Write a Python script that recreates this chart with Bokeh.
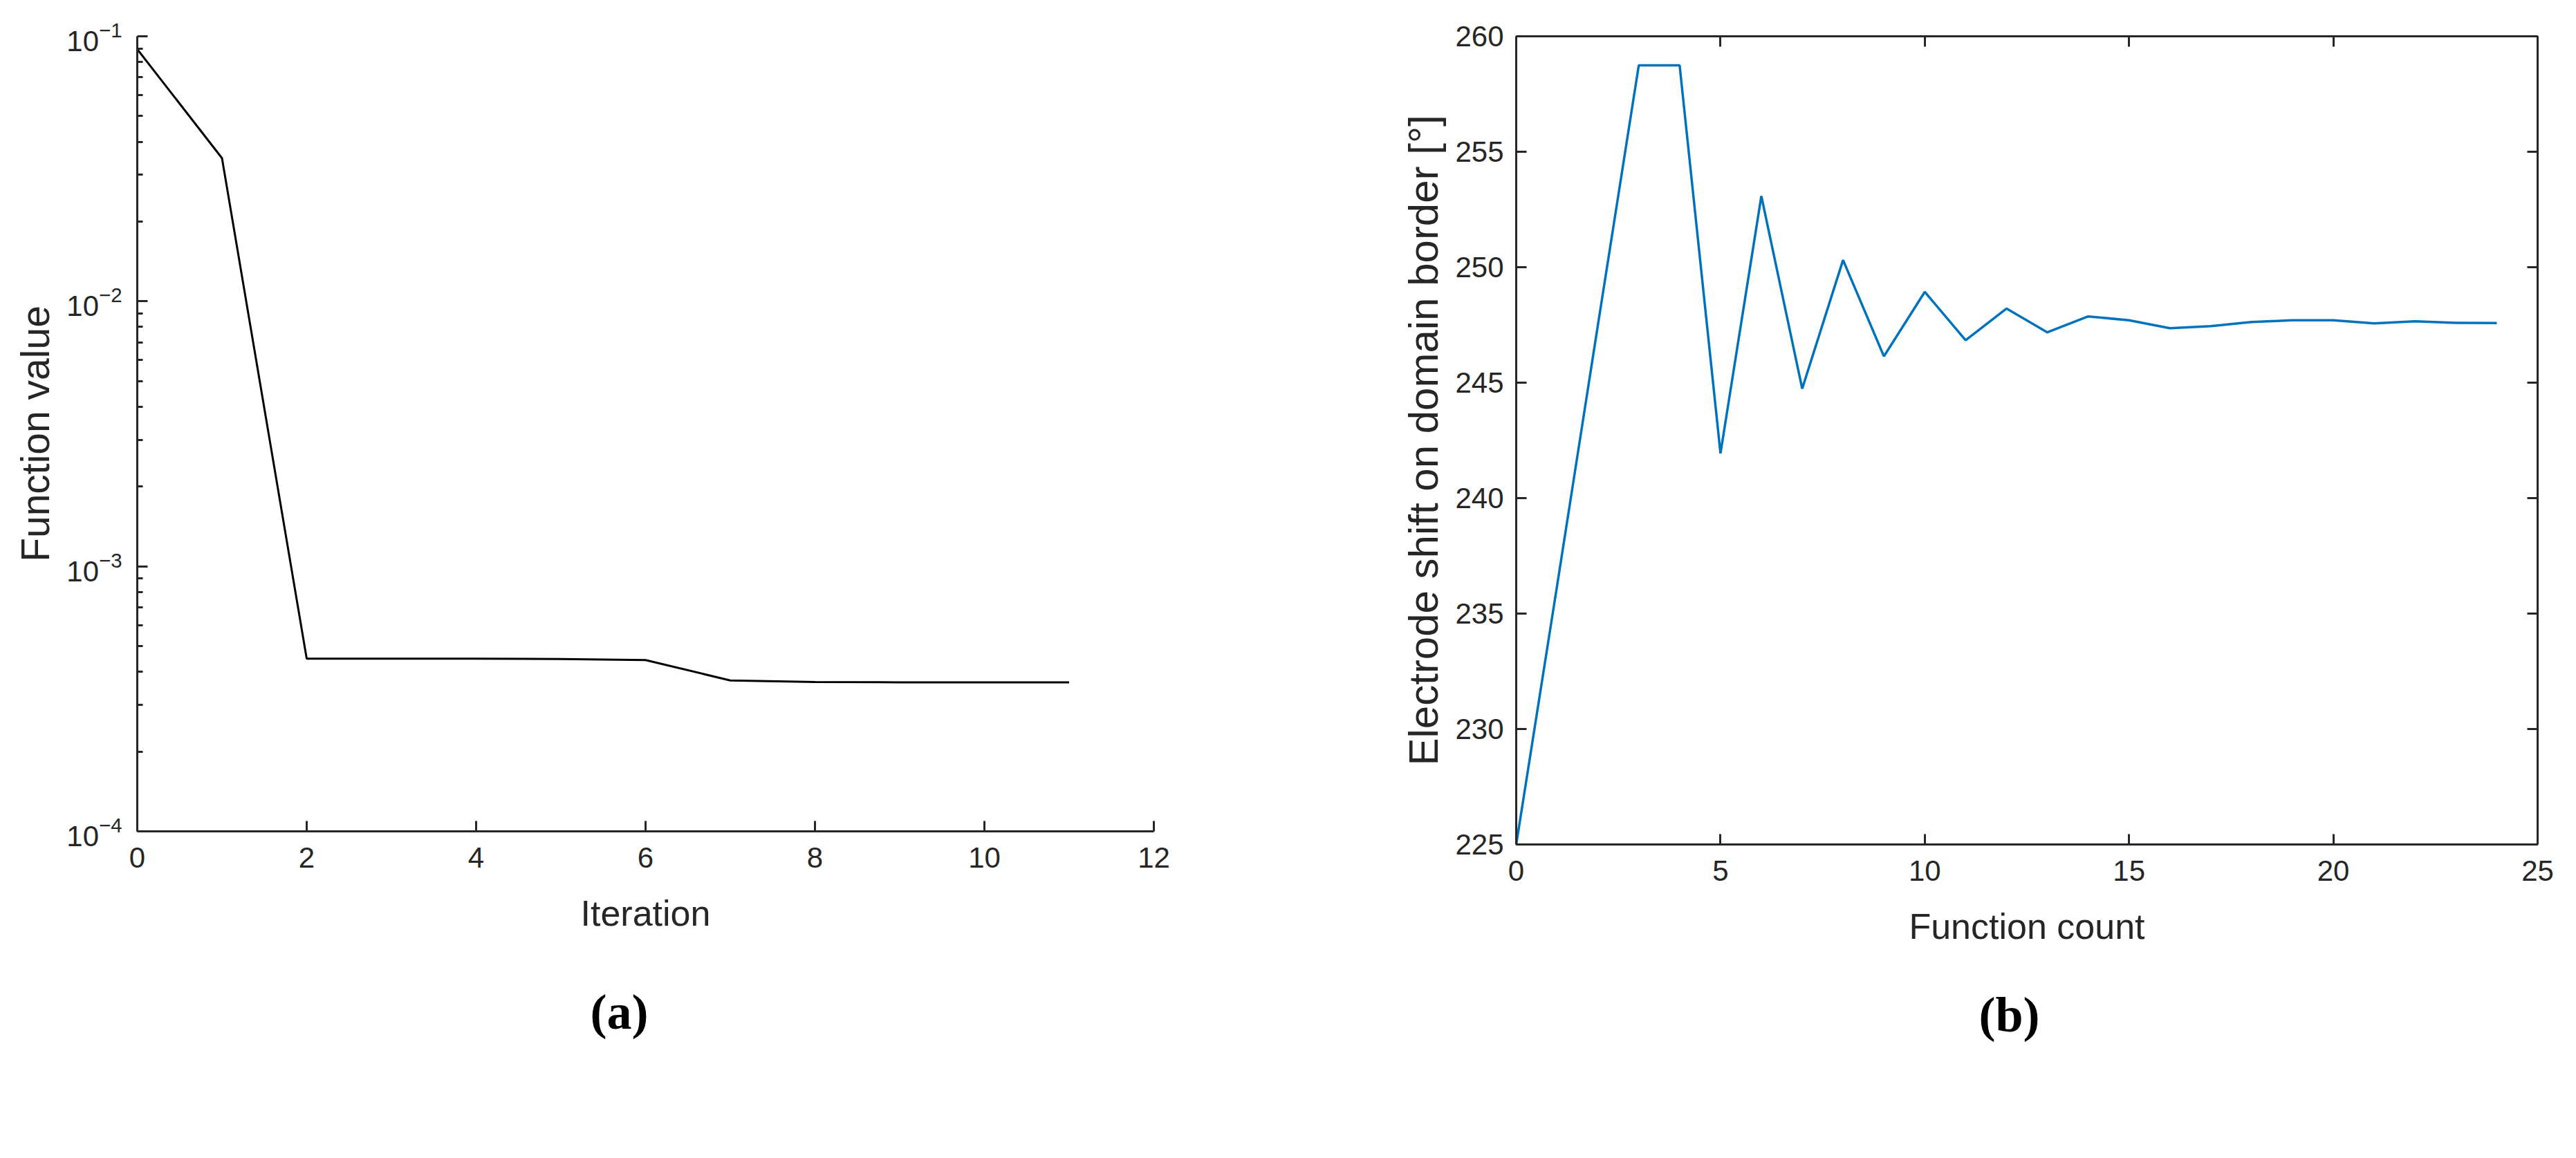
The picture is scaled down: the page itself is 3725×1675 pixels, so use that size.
from bokeh.plotting import figure
from bokeh.layouts import row
from bokeh.models import Range1d, FixedTicker, LinearAxis, Title
from bokeh.embed import file_html
from bokeh.resources import INLINE

# ---------------- data ----------------
iteration = [0, 1, 2, 3, 4, 5, 6, 7, 8, 9, 10, 11]
function_value = [0.0894, 0.0347, 4.48e-4, 4.48e-4, 4.48e-4, 4.47e-4,
                  4.43e-4, 3.71e-4, 3.66e-4, 3.65e-4, 3.65e-4, 3.65e-4]

function_count = [0, 1, 2, 3, 4, 5, 6, 7, 8, 9, 10, 11, 12,
                  13, 14, 15, 16, 17, 18, 19, 20, 21, 22, 23, 24]
electrode_shift = [225.0, 236.2, 247.5, 258.74, 258.74, 241.94, 253.08, 244.74,
                   250.31, 246.14, 248.93, 246.84, 248.21, 247.18, 247.87, 247.70,
                   247.36, 247.45, 247.63, 247.70, 247.70, 247.57, 247.66, 247.59,
                   247.58]

a_xticks = [0, 2, 4, 6, 8, 10, 12]
a_yticks = [1e-4, 1e-3, 1e-2, 1e-1]
a_yminor = [2e-4, 3e-4, 4e-4, 5e-4, 6e-4, 7e-4, 8e-4, 9e-4,
            2e-3, 3e-3, 4e-3, 5e-3, 6e-3, 7e-3, 8e-3, 9e-3,
            2e-2, 3e-2, 4e-2, 5e-2, 6e-2, 7e-2, 8e-2, 9e-2]
b_xticks = [0, 5, 10, 15, 20, 25]
b_yticks = [225, 230, 235, 240, 245, 250, 255, 260]

AX = "#262626"
FONT = "Liberation Sans"
TICK_SIZE = "42px"
XLABEL_SIZE = "52px"


def style_axis(ax, tick_standoff, label_standoff, label_size=XLABEL_SIZE,
               minor=False, show_labels=True):
    ax.axis_line_color = AX
    ax.axis_line_width = 3
    ax.major_tick_line_color = AX
    ax.major_tick_line_width = 3
    ax.major_tick_in = 15
    ax.major_tick_out = 0
    if minor:
        ax.minor_tick_line_color = AX
        ax.minor_tick_line_width = 3
        ax.minor_tick_in = 8
        ax.minor_tick_out = 0
    else:
        ax.minor_tick_line_color = None
    ax.major_label_text_font = FONT
    ax.major_label_standoff = tick_standoff
    if show_labels:
        ax.major_label_text_font_size = TICK_SIZE
        ax.major_label_text_color = AX
    else:
        ax.major_label_text_font_size = "1px"
        ax.major_label_text_color = None
        ax.major_label_standoff = 0
    ax.axis_label_text_font = FONT
    ax.axis_label_text_font_size = label_size
    ax.axis_label_text_font_style = "normal"
    ax.axis_label_text_color = AX
    ax.axis_label_standoff = label_standoff


TOP = 52
BOTTOM = 446

# ---------------- panel (a) ----------------
p1 = figure(width=1868, height=TOP + 1150 + BOTTOM,
            x_range=Range1d(0, 12), y_range=Range1d(1e-4, 1e-1),
            y_axis_type="log", output_backend="svg", toolbar_location=None,
            min_border_left=198, min_border_right=200,
            min_border_top=TOP, min_border_bottom=BOTTOM)
p1.outline_line_color = None
p1.xgrid.visible = False
p1.ygrid.visible = False
p1.background_fill_color = "white"
p1.border_fill_color = "white"

p1.xaxis.ticker = FixedTicker(ticks=a_xticks)
p1.yaxis.ticker = FixedTicker(ticks=a_yticks, minor_ticks=a_yminor)
p1.xaxis.axis_label = "Iteration"
p1.yaxis.axis_label = "Function value"
style_axis(p1.xaxis[0], 23, 34)
style_axis(p1.yaxis[0], 22, 10, label_size="57px", minor=True)

p1.line(iteration, function_value, line_color="black", line_width=3)

p1.add_layout(Title(text="(a)", align="left", offset=655,
                    text_font="Liberation Serif", text_font_size="72px",
                    text_font_style="bold", text_color="black", standoff=139),
              "below")

# ---------------- panel (b) ----------------
p2 = figure(width=1852, height=TOP + 1169 + BOTTOM,
            x_range=Range1d(0, 25), y_range=Range1d(225, 260),
            output_backend="svg", toolbar_location=None,
            min_border_left=324, min_border_right=51,
            min_border_top=TOP, min_border_bottom=BOTTOM)
p2.outline_line_color = None
p2.xgrid.visible = False
p2.ygrid.visible = False
p2.background_fill_color = "white"
p2.border_fill_color = "white"

p2.xaxis.ticker = FixedTicker(ticks=b_xticks)
p2.yaxis.ticker = FixedTicker(ticks=b_yticks)
p2.xaxis.axis_label = "Function count"
p2.yaxis.axis_label = "Electrode shift on domain border [°]"
style_axis(p2.xaxis[0], 23, 34)
style_axis(p2.yaxis[0], 18, 9, label_size="60px")

top_ax = LinearAxis(ticker=FixedTicker(ticks=b_xticks))
style_axis(top_ax, 0, 0, show_labels=False)
p2.add_layout(top_ax, "above")
right_ax = LinearAxis(ticker=FixedTicker(ticks=b_yticks))
style_axis(right_ax, 0, 0, show_labels=False)
p2.add_layout(right_ax, "right")

p2.line(function_count, electrode_shift, line_color="#0072BD", line_width=3.5)

p2.add_layout(Title(text="(b)", align="left", offset=669,
                    text_font="Liberation Serif", text_font_size="72px",
                    text_font_style="bold", text_color="black", standoff=108),
              "below")

layout = row(p1, p2)
open("out.html", "w").write(file_html(layout, INLINE))
